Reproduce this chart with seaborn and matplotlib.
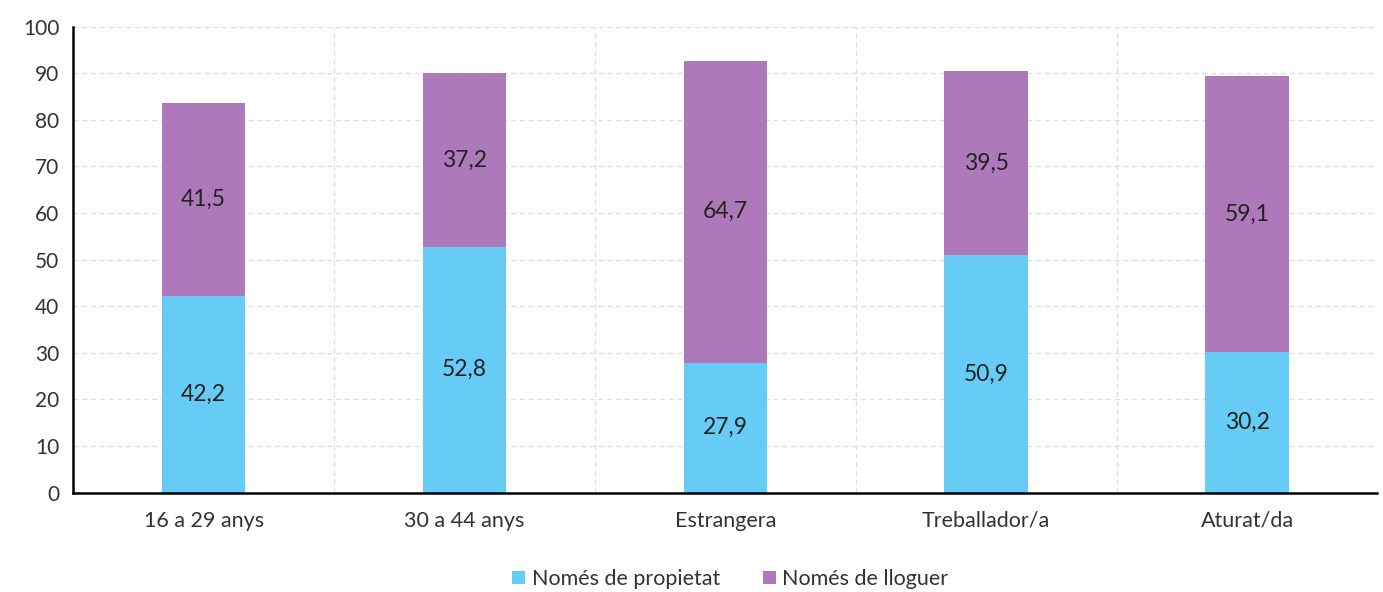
import numpy as np
import pandas as pd
import matplotlib
matplotlib.use('Agg')
import matplotlib.pyplot as plt
import seaborn as sns
from matplotlib.ticker import FixedLocator

categories = ['16 a 29 anys', '30 a 44 anys', 'Estrangera', 'Treballador/a', 'Aturat/da']
propietat = [42.2, 52.8, 27.9, 50.9, 30.2]
lloguer = [41.5, 37.2, 64.7, 39.5, 59.1]
series_names = ['Només de propietat', 'Només de lloguer']
colors = ['#66CCF5', '#AD79BA']

sns.set_style('white')
plt.rcParams['font.family'] = ['Lato', 'DejaVu Sans']

df = pd.DataFrame({'cat': categories, 'prop': propietat, 'llog': lloguer})

fig, ax = plt.subplots(figsize=(13.83, 5.92), dpi=100)
sns.barplot(data=df, x='cat', y='prop', color=colors[0], width=0.32, ax=ax,
            saturation=1, label=series_names[0], linewidth=0)
sns.barplot(data=df, x='cat', y='llog', color=colors[1], width=0.32, ax=ax,
            saturation=1, bottom=df['prop'], label=series_names[1], linewidth=0)

for i, (p, l) in enumerate(zip(propietat, lloguer)):
    ax.text(i, p / 2, ('%.1f' % p).replace('.', ','), ha='center', va='center',
            fontsize=16.5, color='#222222')
    ax.text(i, p + l / 2, ('%.1f' % l).replace('.', ','), ha='center', va='center',
            fontsize=16.5, color='#222222')

ax.set_xlim(-0.5, len(categories) - 0.5)
ax.set_ylim(0, 100)
ax.set_yticks(np.arange(0, 101, 10))
ax.xaxis.set_minor_locator(FixedLocator(np.arange(-0.5, len(categories), 1.0)))
ax.tick_params(axis='x', which='major', length=0, labelsize=15.5, pad=13, colors='#333333')
ax.tick_params(axis='x', which='minor', length=7, width=1.5, direction='out', color='black')
ax.tick_params(axis='y', length=7, width=1.5, direction='out', labelsize=15,
               colors='#333333', pad=3)
ax.tick_params(axis='y', color='black')
ax.grid(axis='y', which='major', linestyle=(0, (4, 3)), color='#dddddd', linewidth=0.9)
ax.grid(axis='x', which='minor', linestyle=(0, (4, 3)), color='#dddddd', linewidth=0.9)
ax.set_axisbelow(True)
ax.set_xlabel('')
ax.set_ylabel('')
for s in ['top', 'right']:
    ax.spines[s].set_visible(False)
for s in ['left', 'bottom']:
    ax.spines[s].set_color('black')
    ax.spines[s].set_linewidth(1.8)

handles, labels = ax.get_legend_handles_labels()
if ax.get_legend() is not None:
    ax.get_legend().remove()
fig.legend(handles, labels, loc='center', bbox_to_anchor=(0.528, 0.022), ncol=2,
           frameon=False, fontsize=15.5, handlelength=0.6, handleheight=0.6,
           handletextpad=0.3, columnspacing=2.0, labelcolor='#333333',
           borderpad=0, borderaxespad=0)

fig.subplots_adjust(left=0.053, right=0.996, top=0.955, bottom=0.168)
fig.savefig('out.png', dpi=100)
